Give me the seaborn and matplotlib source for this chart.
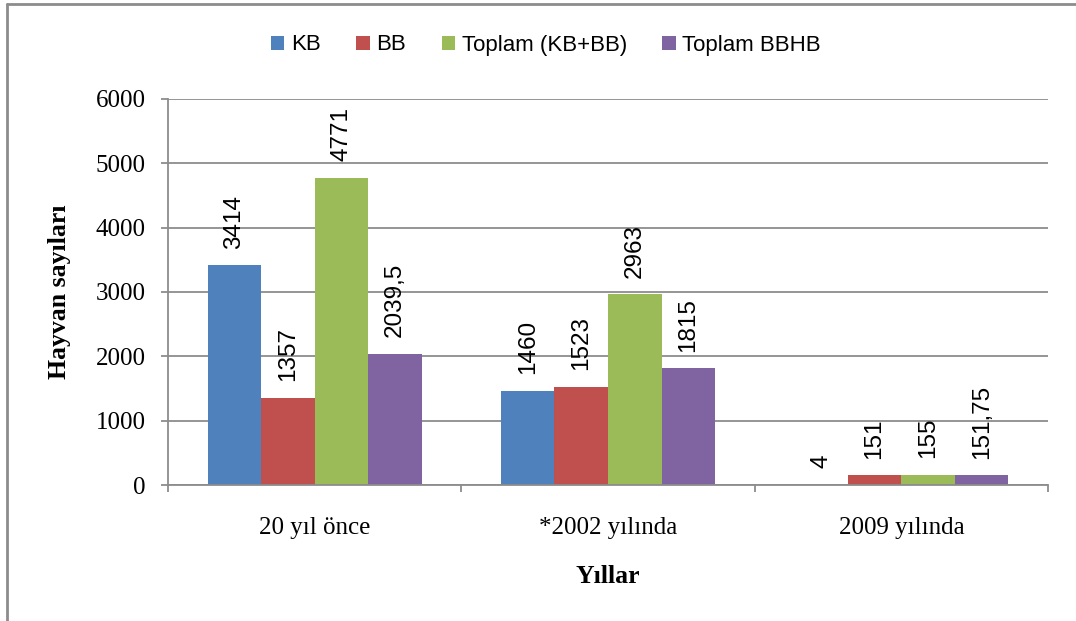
import pandas as pd
import matplotlib.pyplot as plt
import seaborn as sns
from matplotlib.lines import Line2D

# --- dados ---
anos = ['20 yıl önce', '*2002 yılında', '2009 yılında']
series = ['KB', 'BB', 'Toplam (KB+BB)', 'Toplam BBHB']
kb = [3414, 1460, 4]
bb = [1357, 1523, 151]
toplam = [4771, 2963, 155]
bbhb = [2039.5, 1815, 151.75]
cores = ['#4F81BD', '#C0504D', '#9BBB59', '#8064A2']

rows = []
for nome, vals in zip(series, [kb, bb, toplam, bbhb]):
    for ano, v in zip(anos, vals):
        rows.append({'ano': ano, 'serie': nome, 'valor': v})
df = pd.DataFrame(rows)

sns.set_style("white")
plt.rcParams['font.family'] = ['Liberation Serif', 'DejaVu Serif']
plt.rcParams['text.color'] = 'black'
plt.rcParams['axes.labelcolor'] = 'black'
plt.rcParams['xtick.labelcolor'] = 'black'
plt.rcParams['ytick.labelcolor'] = 'black'

fig = plt.figure(figsize=(10.76, 6.21), dpi=100)
ax = fig.add_axes([0.1561, 0.219, 0.974 - 0.1561, 0.8406 - 0.219])

sns.barplot(data=df, x='ano', y='valor', hue='serie', order=anos, hue_order=series,
            palette=cores, width=0.73, gap=0, saturation=1, errorbar=None, ax=ax,
            edgecolor='none', linewidth=0)

ax.set_ylim(0, 6000)
ax.set_xlim(-0.5, 2.5)
ax.set_yticks(range(0, 6001, 1000))
ax.yaxis.grid(True, color='#8c8c8c', linewidth=1.3)
ax.set_axisbelow(True)

for s in ['top', 'right']:
    ax.spines[s].set_visible(False)
for s in ['left', 'bottom']:
    ax.spines[s].set_color('#8c8c8c')
    ax.spines[s].set_linewidth(1.3)

ax.tick_params(axis='y', direction='out', length=5, width=1.3, color='#8c8c8c',
               labelsize=18, pad=11, left=True, labelcolor='black')
ax.set_xticks([-0.5, 0.5, 1.5, 2.5], minor=True)
ax.tick_params(axis='x', which='major', length=0, labelsize=18, pad=23, labelcolor='black')
ax.tick_params(axis='x', which='minor', direction='out', length=5, width=1.3,
               color='#8c8c8c', bottom=True)

ax.set_xlabel('Yıllar', fontsize=18.5, fontweight='bold', labelpad=19, color='black')
ax.set_ylabel('Hayvan sayıları', fontsize=18.5, fontweight='bold', labelpad=18, color='black')

# rótulos de dados
for cont in ax.containers:
    for bar in cont:
        h = bar.get_height()
        txt = f"{h:g}".replace('.', ',')
        ax.annotate(txt, (bar.get_x() + bar.get_width() / 2, h),
                    xytext=(0, 12), textcoords='offset points',
                    rotation=90, ha='center', va='bottom', color='black',
                    fontsize=17.5, family=['Liberation Sans', 'DejaVu Sans'])

handles, labels = ax.get_legend_handles_labels()
leg = ax.legend(handles, labels, loc='center', bbox_to_anchor=(546 / 1076, 1 - 45 / 621),
                bbox_transform=fig.transFigure, ncol=4, frameon=False,
                handlelength=0.6, handleheight=0.6, handletextpad=0.3, columnspacing=1.6,
                prop={'family': ['Liberation Sans', 'DejaVu Sans'], 'size': 16})
for t in leg.get_texts():
    t.set_color('black')

# borda da figura
fig.add_artist(Line2D([7 / 1076, 7 / 1076], [0, 1 - 4 / 621], transform=fig.transFigure,
                      color='#8c8c8c', linewidth=2))
fig.add_artist(Line2D([7 / 1076, 1], [1 - 4 / 621, 1 - 4 / 621], transform=fig.transFigure,
                      color='#8c8c8c', linewidth=2))

fig.savefig('out.png', dpi=100)
